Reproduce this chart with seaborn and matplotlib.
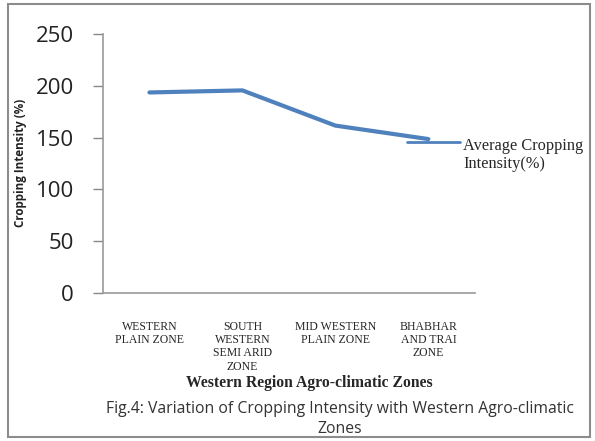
import matplotlib
matplotlib.use("Agg")
import matplotlib.pyplot as plt
import seaborn as sns
import pandas as pd
from matplotlib.lines import Line2D
from matplotlib.patches import Rectangle

zones = ["WESTERN\nPLAIN ZONE", "SOUTH\nWESTERN\nSEMI ARID\nZONE",
         "MID WESTERN\nPLAIN ZONE", "BHABHAR\nAND TRAI\nZONE"]
intensity = [193.5, 195.5, 161.5, 148.5]
yticks = [0, 50, 100, 150, 200, 250]

sns.set_theme(style="white")
plt.rcParams['font.family'] = ['DejaVu Sans']

df = pd.DataFrame({"zone": zones, "value": intensity})

fig = plt.figure(figsize=(5.95, 4.41), dpi=100)
ax = fig.add_axes([0.173, 0.336, 0.625, 0.587])
sns.lineplot(data=df, x="zone", y="value", ax=ax, color="#4F81BD",
             linewidth=3, sort=False)

ax.set_ylim(0, 250)
ax.set_xlim(-0.5, 3.5)
ax.set_yticks(yticks)
ax.set_yticklabels([str(t) for t in yticks], fontsize=16, family="Open Sans", color="#222222")
ax.set_xticks(range(len(zones)))
ax.set_xticklabels(zones, fontsize=8.5, family="Liberation Serif", linespacing=1.15)
ax.tick_params(axis="y", which="both", left=True, length=7, color="#888888", width=1, pad=14)
ax.tick_params(axis="x", which="both", bottom=False, length=0, pad=20)
for lbl in ax.get_xticklabels():
    lbl.set_verticalalignment("top")

for s in ["top", "right"]:
    ax.spines[s].set_visible(False)
for s in ["left", "bottom"]:
    ax.spines[s].set_color("#999999")
    ax.spines[s].set_linewidth(1.2)

ax.set_xlabel("")
ax.set_ylabel("")

fig.text(0.035, 0.63, "Cropping Intensity (%)", rotation=90, fontsize=8.4,
         fontweight="bold", family="Open Sans", ha="center", va="center", color="#222222")

fig.text(309/595, 1-383/441, "Western Region Agro-climatic Zones", fontsize=11.3, fontweight="bold",
         family="Liberation Serif", ha="center", va="center")
fig.text(340/595, 1-419/441, "Fig.4: Variation of Cropping Intensity with Western Agro-climatic\nZones",
         fontsize=11.3, family="Open Sans", ha="center", va="center", linespacing=1.3, color="#333333")

# legend
fig.add_artist(Line2D([407/595, 460/595], [1-142/441, 1-142/441], color="#4F81BD",
                      linewidth=2, transform=fig.transFigure))
fig.text(463/595, 1-155/441, "Average Cropping\nIntensity(%)", fontsize=11.8,
         family="Liberation Serif", ha="left", va="center", linespacing=1.1)

# outer border
fig.add_artist(Rectangle((8/595, 4/441), 582/595, 433/441, transform=fig.transFigure,
                         fill=False, edgecolor="#8c8c8c", linewidth=1.5))

fig.savefig("out.png", dpi=100)
